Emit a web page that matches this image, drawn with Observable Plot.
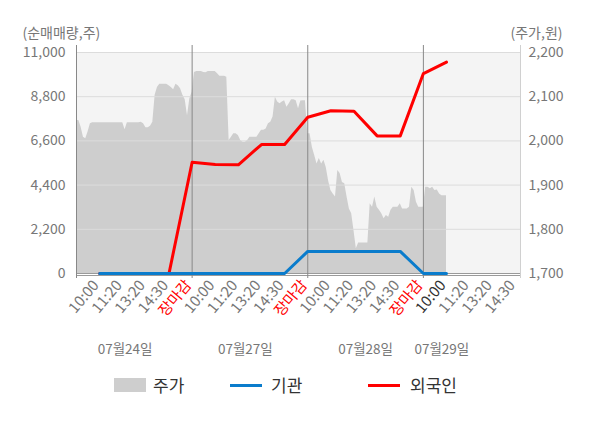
<!DOCTYPE html>
<html><head><meta charset="utf-8">
<script src="https://cdn.jsdelivr.net/npm/d3@7"></script>
<script src="https://cdn.jsdelivr.net/npm/@observablehq/plot@0.6"></script>
<style>
body{margin:0;background:#fff;font-family:"Noto Sans CJK KR","Noto Sans",sans-serif;}
#wrap{position:relative;width:600px;height:428px;overflow:hidden;}
.lg{position:absolute;font-size:17px;line-height:20px;color:#333;white-space:nowrap;}
.sw{position:absolute;}
</style></head>
<body><div id="wrap"></div>
<script>
// 주가 (price, won) sampled along the index axis (10 samples per tick slot)
const price = [
2046,2046,2031,2008,2005,2020,2039,2041,2041,2041,
2041,2041,2041,2041,2041,2041,2041,2041,2041,2041,
2041,2025,2041,2041,2041,2041,2041,2041,2042,2039,
2030,2030,2033,2042,2103,2121,2128,2128,2128,2128,
2125,2121,2116,2128,2125,2118,2103,2093,2057,2095,
2110,2155,2157,2157,2157,2155,2154,2157,2157,2157,
2157,2152,2146,2146,2146,2144,2001,2008,2016,2016,
2012,2001,1997,1997,2001,2008,2008,2008,2008,2016,
2024,2024,2027,2039,2042,2054,2099,2088,2084,2088,
2091,2076,2084,2093,2093,2091,2073,2090,2091,2091,
2016,2016,1985,1967,1948,1960,1948,1956,1940,1910,
1888,1880,1873,1933,1926,1906,1903,1873,1846,1835,
1797,1756,1769,1769,1769,1769,1769,1858,1850,1873,
1850,1843,1835,1824,1831,1827,1843,1850,1850,1850,
1858,1846,1846,1846,1850,1895,1888,1861,1850,1850,
1850,1895,1895,1892,1895,1888,1889,1880,1876,1876,1876
];
// 순매매량 at each tick (10:00 of day 1 ... 10:00 of day 4)
const foreign = [0,0,0,0,5540,5420,5410,6420,6420,7780,8100,8080,6850,6850,9950,10520];
const inst    = [0,0,0,0,0,0,0,0,0,1100,1100,1100,1100,1100,0,0];
const sessionTicks = ["10:00","11:20","13:20","14:30","장마감"];
const days = ["07월24일","07월27일","07월28일","07월29일"];
const dayLabelPos = [21,73,125,158];
const leftTicks = [0,2200,4400,6600,8800,11000];
const rightTicks = [1700,1800,1900,2000,2100,2200];

const perSlot = 10, slotsPerDay = 5, xMax = 192;
const pMin = 1700, pMax = 2200, vMax = 11000;
const toY = p => (p - pMin) * vMax / (pMax - pMin);
const fmt = d3.format(",");

const priceData = price.map((p, i) => ({i, y: toY(p)}));
const lineData = arr => arr.map((v, k) => ({i: (k + 1) * perSlot, v}));
const ticks = [];
days.forEach((d, di) => sessionTicks.forEach((t, j) => {
  const i = (di * slotsPerDay + j + 1) * perSlot;
  if (i <= xMax) ticks.push({i, label: t});
}));
const lastI = (price.length - 1);
ticks.forEach(t => t.color = t.label === "장마감" ? "#ff0000" : (Math.abs(t.i - lastI) < 1 ? "#333333" : "#777777"));
const daySeps = days.map((d, di) => di * slotsPerDay * perSlot);

const chart = Plot.plot({
  width: 600, height: 370,
  marginLeft: 76, marginRight: 80, marginTop: 52, marginBottom: 97,
  x: {domain: [0, xMax], axis: null},
  y: {domain: [0, vMax], axis: null},
  color: {type: "identity"},
  style: {fontFamily: "'Noto Sans CJK KR','Noto Sans',sans-serif", background: "#fff", overflow: "visible"},
  marks: [
    Plot.frame({fill: "#f4f4f4", stroke: null}),
    Plot.areaY(priceData, {x: "i", y: "y", fill: "#cecece"}),
    Plot.ruleY(leftTicks.filter(v => v > 0), {stroke: "#dcdcdc", strokeWidth: 1}),
    Plot.ruleY([0], {stroke: "#9a9a9a"}),
    Plot.ruleY([0], {stroke: "#9a9a9a", dy: 2}),
    Plot.ruleX(daySeps, {stroke: "#888", insetTop: -7, insetBottom: -5}),
    Plot.ruleX([xMax], {stroke: "#d0d0d0", insetTop: -7, insetBottom: -5}),
    Plot.lineY(lineData(foreign), {x: "i", y: "v", stroke: "#ff0000", strokeWidth: 3}),
    Plot.lineY(lineData(inst), {x: "i", y: "v", stroke: "#0a7ccc", strokeWidth: 3}),
    Plot.text(leftTicks, {y: d => d, text: d => fmt(d), frameAnchor: "left", textAnchor: "end", dx: -11, fill: "#777", fontSize: 14}),
    Plot.text(rightTicks, {y: d => toY(d), text: d => fmt(d), frameAnchor: "right", textAnchor: "start", dx: 8, fill: "#777", fontSize: 14}),
    Plot.text(["(순매매량,주)"], {frameAnchor: "top-left", textAnchor: "start", dx: -54, dy: -24, fill: "#777", fontSize: 14}),
    Plot.text(["(주가,원)"], {frameAnchor: "top-right", textAnchor: "end", dx: 42, dy: -24, fill: "#777", fontSize: 14}),
    Plot.text(ticks, {x: "i", text: "label", fill: "color", frameAnchor: "bottom", rotate: -50, textAnchor: "end", dy: 12, fontSize: 15}),
    Plot.text(days, {x: (d, k) => dayLabelPos[k], text: d => d, frameAnchor: "bottom", dy: 80, fill: "#777", fontSize: 13.5})
  ]
});
const wrap = document.getElementById("wrap");
wrap.appendChild(chart);

const legend = [
  {name: "주가", type: "rect", color: "#cecece", x: 114, tx: 153},
  {name: "기관", type: "line", color: "#0a7ccc", x: 230, tx: 271},
  {name: "외국인", type: "line", color: "#ff0000", x: 368, tx: 410}
];
legend.forEach(l => {
  const s = document.createElement("div");
  s.className = "sw";
  s.style.left = l.x + "px";
  s.style.width = "32px";
  s.style.background = l.color;
  if (l.type === "rect") { s.style.top = "378px"; s.style.height = "14px"; }
  else { s.style.top = "384px"; s.style.height = "3px"; }
  wrap.appendChild(s);
  const t = document.createElement("div");
  t.className = "lg";
  t.style.left = l.tx + "px";
  t.style.top = "375px";
  t.textContent = l.name;
  wrap.appendChild(t);
});
</script>
</body></html>
